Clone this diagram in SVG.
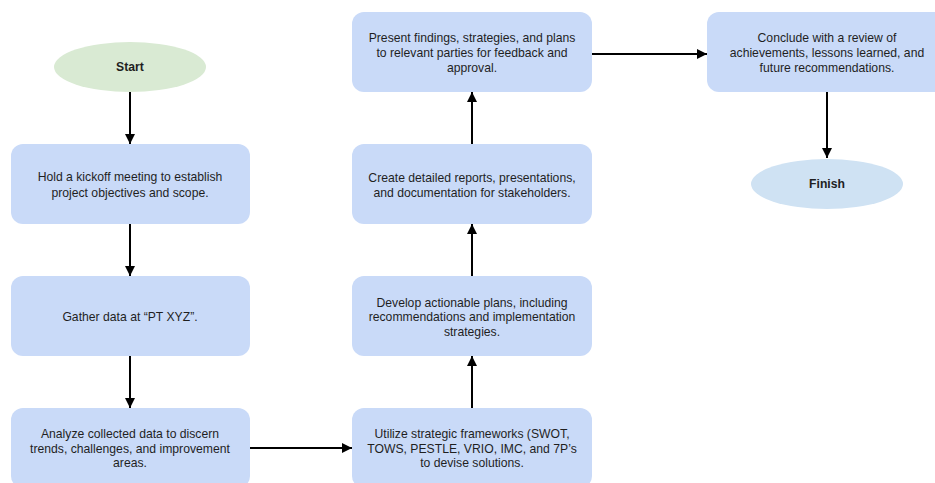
<svg xmlns="http://www.w3.org/2000/svg" width="935" height="483" viewBox="0 0 935 483">
<style>
.box{fill:#c9daf8;}
.t{font-family:"Liberation Sans",Arial,sans-serif;font-size:12.2px;fill:#1f1f1f;text-anchor:middle;}
.b{font-weight:bold;}
.c{stroke:#000;stroke-width:2;fill:none;marker-end:url(#ah);}
</style>
<defs>
<marker id="ah" viewBox="0 0 10 10" refX="10" refY="5" markerWidth="5" markerHeight="5" orient="auto" markerUnits="strokeWidth">
<path d="M0,0 L10,5 L0,10 z" fill="#000"/>
</marker>
</defs>
<rect width="935" height="483" fill="#fff"/>
<g id="connectors">
<line class="c" x1="130" y1="92" x2="130" y2="144"/>
<line class="c" x1="130" y1="224" x2="130" y2="276"/>
<line class="c" x1="130" y1="356" x2="130" y2="408"/>
<line class="c" x1="250" y1="448" x2="352" y2="448"/>
<line class="c" x1="472" y1="408" x2="472" y2="356"/>
<line class="c" x1="472" y1="276" x2="472" y2="224"/>
<line class="c" x1="472" y1="144" x2="472" y2="92"/>
<line class="c" x1="592" y1="54" x2="707" y2="54"/>
<line class="c" x1="827" y1="92" x2="827" y2="158"/>
</g>
<g id="start">
<ellipse cx="130" cy="67" rx="76" ry="25" fill="#d9ead3"/>
<text class="t b" x="130" y="71">Start</text>
</g>
<g id="kickoff">
<rect class="box" x="11" y="144" width="239" height="80" rx="12"/>
<text class="t" x="130" y="181">Hold a kickoff meeting to establish</text>
<text class="t" x="130" y="197">project objectives and scope.</text>
</g>
<g id="gather">
<rect class="box" x="11" y="276" width="239" height="80" rx="12"/>
<text class="t" x="130" y="321">Gather data at “PT XYZ”.</text>
</g>
<g id="analyze">
<rect class="box" x="11" y="408" width="239" height="80" rx="12"/>
<text class="t" x="130" y="438">Analyze collected data to discern</text>
<text class="t" x="130" y="453">trends, challenges, and improvement</text>
<text class="t" x="130" y="467">areas.</text>
</g>
<g id="utilize">
<rect class="box" x="352" y="408" width="240" height="80" rx="12"/>
<text class="t" x="472" y="438">Utilize strategic frameworks (SWOT,</text>
<text class="t" x="472" y="453">TOWS, PESTLE, VRIO, IMC, and 7P’s</text>
<text class="t" x="472" y="467">to devise solutions.</text>
</g>
<g id="develop">
<rect class="box" x="352" y="276" width="240" height="80" rx="12"/>
<text class="t" x="472" y="307">Develop actionable plans, including</text>
<text class="t" x="472" y="321">recommendations and implementation</text>
<text class="t" x="472" y="336">strategies.</text>
</g>
<g id="create">
<rect class="box" x="352" y="144" width="240" height="80" rx="12"/>
<text class="t" x="472" y="182">Create detailed reports, presentations,</text>
<text class="t" x="472" y="197">and documentation for stakeholders.</text>
</g>
<g id="present">
<rect class="box" x="352" y="12" width="240" height="80" rx="12"/>
<text class="t" x="472" y="42">Present findings, strategies, and plans</text>
<text class="t" x="472" y="57">to relevant parties for feedback and</text>
<text class="t" x="472" y="72">approval.</text>
</g>
<g id="conclude">
<rect class="box" x="707" y="12" width="240" height="80" rx="12"/>
<text class="t" x="827" y="42">Conclude with a review of</text>
<text class="t" x="827" y="57">achievements, lessons learned, and</text>
<text class="t" x="827" y="72">future recommendations.</text>
</g>
<g id="finish">
<ellipse cx="827" cy="184" rx="76" ry="25" fill="#cfe2f3"/>
<text class="t b" x="827" y="188">Finish</text>
</g>
</svg>
